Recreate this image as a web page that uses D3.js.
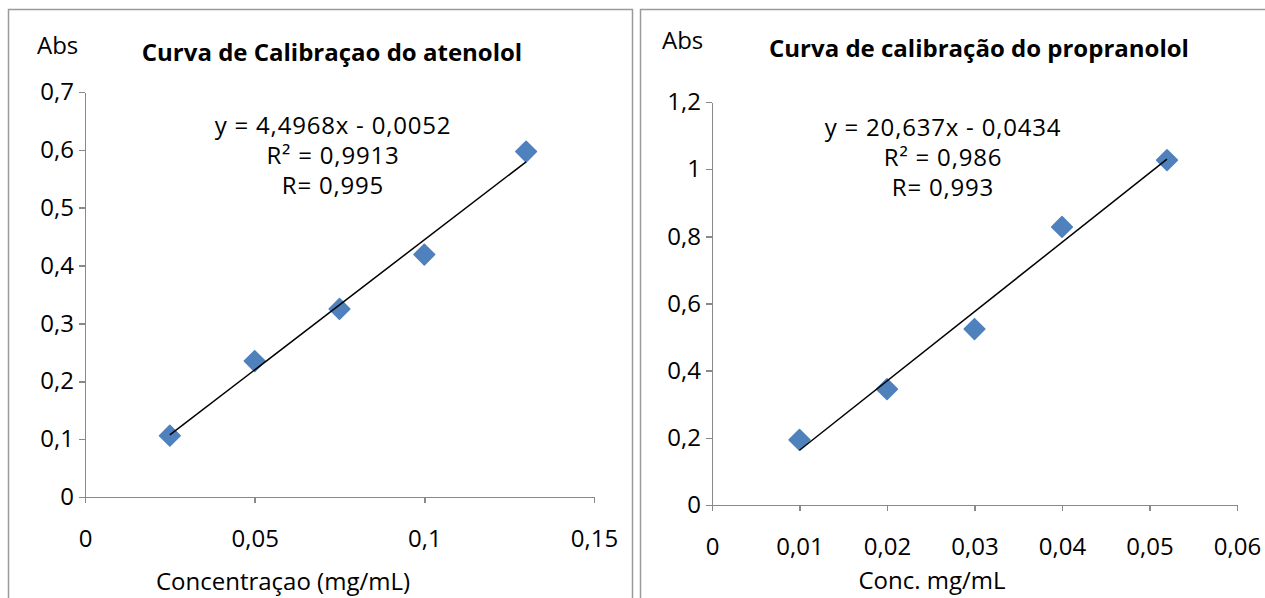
<!DOCTYPE html>
<html>
<head>
<meta charset="utf-8">
<script src="https://cdn.jsdelivr.net/npm/d3@7"></script>
<style>
  body { margin: 0; background: #fff; }
  svg { display: block; font-family: "Open Sans", "Noto Sans", sans-serif; }
  .axis path, .axis line { stroke: #898989; stroke-width: 1.5; shape-rendering: crispEdges; }
  .axis text { font-size: 24px; fill: #000; font-family: "Open Sans", sans-serif; }
</style>
</head>
<body>
<svg id="chart" width="1265" height="598"></svg>
<script>
// atenolol
var atenololX = [0.025, 0.05, 0.075, 0.1, 0.13];
var atenololY = [0.106, 0.235, 0.325, 0.419, 0.597];
var atenololXTicks = [0, 0.05, 0.1, 0.15];
var atenololYTicks = [0, 0.1, 0.2, 0.3, 0.4, 0.5, 0.6, 0.7];
var atenololFit = { slope: 4.4968, intercept: -0.0052 };
var atenololEq = ["y = 4,4968x - 0,0052", "R² = 0,9913", "R= 0,995"];

// propranolol
var propranololX = [0.01, 0.02, 0.03, 0.04, 0.052];
var propranololY = [0.194, 0.345, 0.524, 0.828, 1.027];
var propranololXTicks = [0, 0.01, 0.02, 0.03, 0.04, 0.05, 0.06];
var propranololYTicks = [0, 0.2, 0.4, 0.6, 0.8, 1, 1.2];
var propranololFit = { slope: 20.637, intercept: -0.0434 };
var propranololEq = ["y = 20,637x - 0,0434", "R² = 0,986", "R= 0,993"];

var svg = d3.select("#chart");
var br = d3.formatLocale({ decimal: ",", thousands: ".", grouping: [3], currency: ["R$", ""] });
var fmt = function (d) { return br.format("~g")(d); };

svg.append("rect").attr("width", 1265).attr("height", 598).attr("fill", "#fff");

// cadres des deux graphiques
svg.append("path")
    .attr("d", "M8.5,610V9.5H632.5V610")
    .attr("fill", "none").attr("stroke", "#9a9a9a").attr("stroke-width", 1.5);
svg.append("path")
    .attr("d", "M640.5,610V9.5H1275")
    .attr("fill", "none").attr("stroke", "#9a9a9a").attr("stroke-width", 1.5);

function drawPanel(p) {
    var x = d3.scaleLinear().domain(d3.extent(p.xTicks)).range([p.left, p.right]);
    var y = d3.scaleLinear().domain(d3.extent(p.yTicks)).range([p.bottom, p.top]);
    var g = svg.append("g");

    g.append("g")
        .attr("class", "axis")
        .attr("transform", "translate(0," + p.bottom + ")")
        .call(d3.axisBottom(x).tickValues(p.xTicks).tickFormat(fmt).tickSize(6).tickSizeOuter(0).tickPadding(27));

    g.append("g")
        .attr("class", "axis")
        .attr("transform", "translate(" + p.left + ",0)")
        .call(d3.axisLeft(y).tickValues(p.yTicks).tickFormat(fmt).tickSize(6).tickSizeOuter(0).tickPadding(5));

    // points
    var pts = p.xs.map(function (d, i) { return [d, p.ys[i]]; });
    g.selectAll(".pt")
        .data(pts)
        .enter().append("path")
        .attr("class", "pt")
        .attr("d", d3.symbol(d3.symbolSquare, 215))
        .attr("transform", function (d) { return "translate(" + x(d[0]) + "," + y(d[1]) + ") rotate(45)"; })
        .attr("fill", "#4f81bd")
        .attr("stroke", "#4f81bd").attr("stroke-width", 1.5).attr("stroke-linejoin", "round");

    // droite de regression, au-dessus des marqueurs
    var x0 = d3.min(p.xs), x1 = d3.max(p.xs);
    g.append("line")
        .attr("x1", x(x0)).attr("y1", y(p.fit.slope * x0 + p.fit.intercept))
        .attr("x2", x(x1)).attr("y2", y(p.fit.slope * x1 + p.fit.intercept))
        .attr("stroke", "#000").attr("stroke-width", 1.5);

    g.append("text")
        .attr("x", p.titleX).attr("y", p.titleY)
        .attr("text-anchor", "middle")
        .attr("font-size", 24).attr("font-weight", "bold")
        .text(p.title);

    g.append("text")
        .attr("x", p.absX).attr("y", p.absY)
        .attr("font-size", 24)
        .text("Abs");

    g.append("text")
        .attr("x", p.xTitleX).attr("y", p.xTitleY)
        .attr("text-anchor", "middle")
        .attr("font-size", 24)
        .text(p.xTitle);

    g.selectAll(".eq")
        .data(p.eq)
        .enter().append("text")
        .attr("class", "eq")
        .attr("x", p.eqX)
        .attr("y", function (d, i) { return p.eqY + i * 30; })
        .attr("text-anchor", "middle")
        .attr("font-size", 24)
        .attr("letter-spacing", 0.8)
        .text(function (d) { return d; });
}

drawPanel({
    xs: atenololX, ys: atenololY, xTicks: atenololXTicks, yTicks: atenololYTicks,
    fit: atenololFit, eq: atenololEq,
    left: 85, right: 594, top: 92, bottom: 497,
    title: "Curva de Calibraçao do atenolol", titleX: 332, titleY: 61,
    absX: 37, absY: 54,
    xTitle: "Concentraçao (mg/mL)", xTitleX: 283, xTitleY: 590,
    eqX: 333, eqY: 134
});

drawPanel({
    xs: propranololX, ys: propranololY, xTicks: propranololXTicks, yTicks: propranololYTicks,
    fit: propranololFit, eq: propranololEq,
    left: 712, right: 1237, top: 102, bottom: 505,
    title: "Curva de calibração do propranolol", titleX: 979, titleY: 57,
    absX: 662, absY: 49,
    xTitle: "Conc. mg/mL", xTitleX: 932, xTitleY: 589,
    eqX: 943, eqY: 136
});
</script>
</body>
</html>
